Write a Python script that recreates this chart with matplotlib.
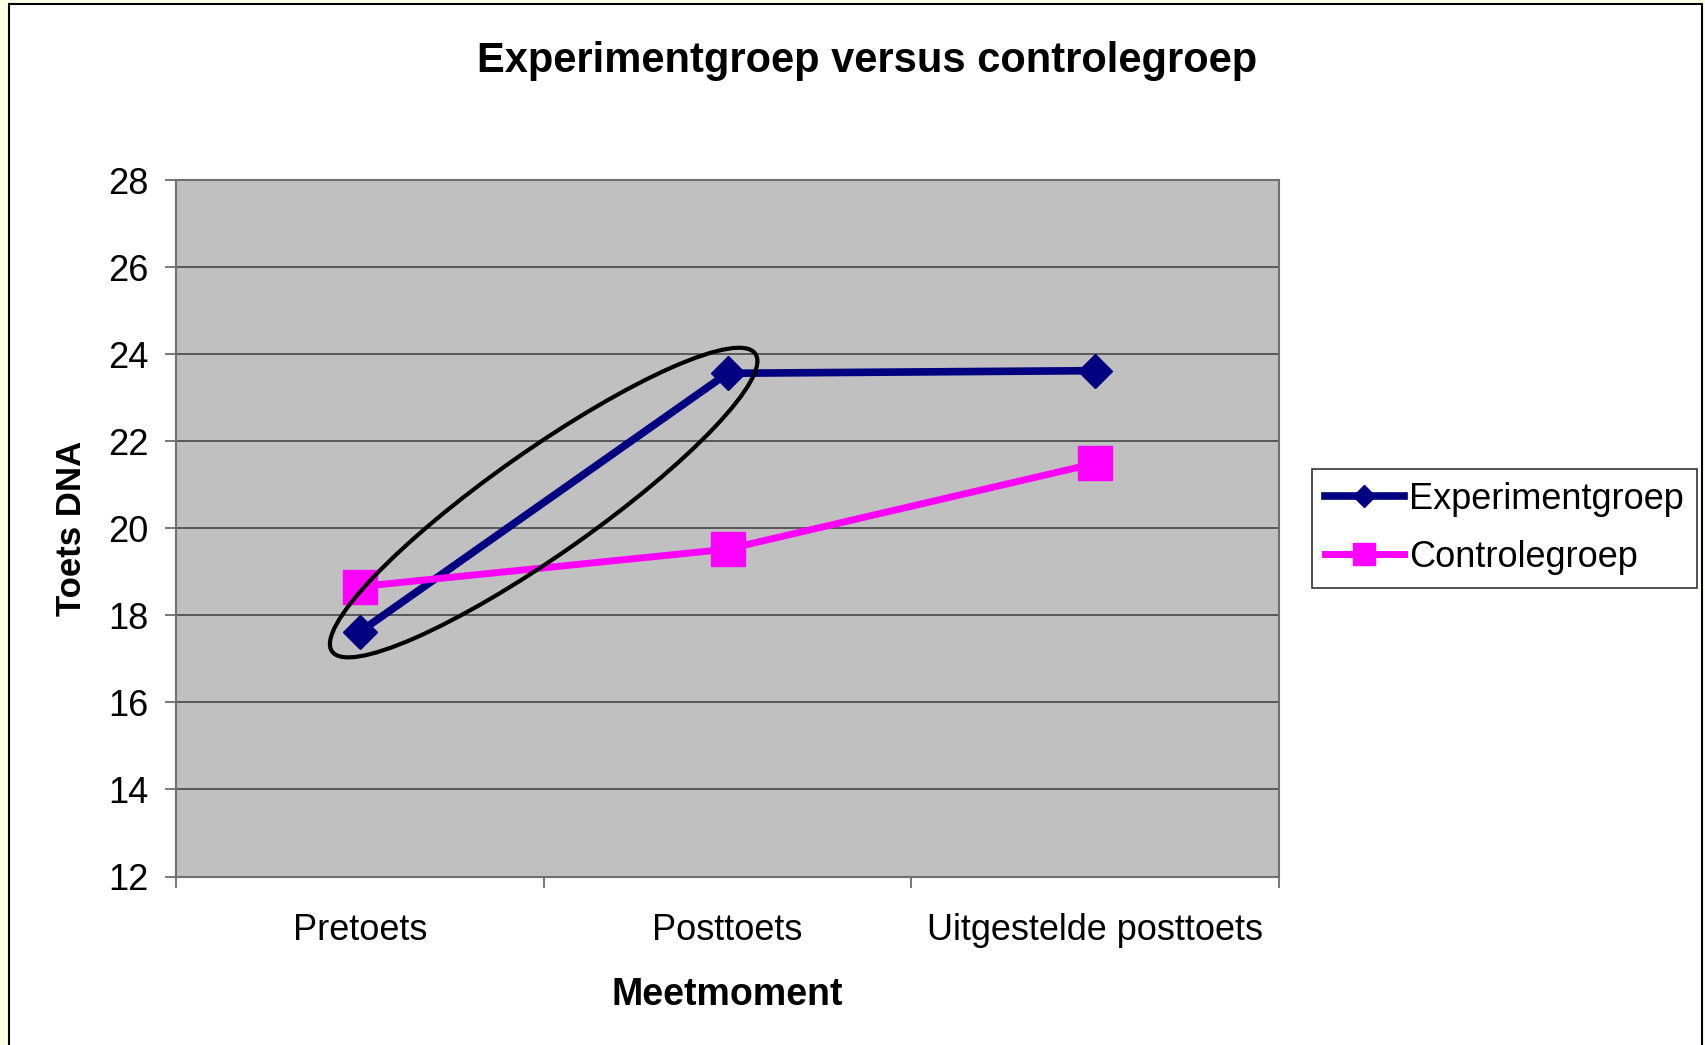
import numpy as np
import matplotlib
matplotlib.use('Agg')
import matplotlib.pyplot as plt
from matplotlib.patches import Ellipse, Rectangle
from matplotlib.transforms import IdentityTransform

plt.rcParams['font.family'] = ['Liberation Sans', 'DejaVu Sans']

categories = ['Pretoets', 'Posttoets', 'Uitgestelde posttoets']
experiment = [17.62, 23.56, 23.62]
controle = [18.66, 19.52, 21.49]
yticks = [12, 14, 16, 18, 20, 22, 24, 26, 28]

fig = plt.figure(figsize=(17.05, 10.45), dpi=100)
fig.patch.set_facecolor('#FFFFE6')

# white chart area with black border
fig.patches.append(Rectangle((9 / 1705, -0.01), 1693 / 1705, 1 - 4 / 1045 + 0.01,
                             transform=fig.transFigure, facecolor='white',
                             edgecolor='black', linewidth=1.5, zorder=-5))

ax = fig.add_axes([176 / 1705, 1 - 876.5 / 1045, 1103 / 1705, 696.5 / 1045])
ax.set_facecolor('#C0C0C0')

x = np.arange(len(categories))
ax.plot(x, experiment, color='#000080', lw=5.5, marker='D', ms=17,
        label='Experimentgroep', zorder=3)
ax.plot(x, controle, color='#FF00FF', lw=5, marker='s', ms=24,
        label='Controlegroep', zorder=3)

ax.set_xlim(-0.5, len(categories) - 0.5)
ax.set_ylim(12, 28)
ax.set_yticks(yticks)
ax.set_xticks(x)
ax.set_xticklabels(categories)
ax.set_xticks(np.arange(len(categories) + 1) - 0.5, minor=True)
ax.tick_params(axis='x', which='major', length=0, labelsize=26, pad=26)
ax.tick_params(axis='x', which='minor', length=8, width=1.2, color='#606060', direction='out')
ax.tick_params(axis='y', labelsize=26, length=8, width=1.2, color='#606060', direction='out', pad=12)
ax.grid(axis='y', color='#505050', lw=1.3)
ax.set_axisbelow(True)
for s in ax.spines.values():
    s.set_color('#707070')
    s.set_linewidth(1.5)

fig.text(0.5083, 1 - 61 / 1045, 'Experimentgroep versus controlegroep', fontsize=30,
         fontweight='bold', ha='center', va='center')
ax.set_xlabel('Meetmoment', fontsize=27, fontweight='bold', labelpad=21)
ax.set_ylabel('Toets DNA', fontsize=25, fontweight='bold', labelpad=14)

leg = ax.legend(loc='center left', bbox_to_anchor=(1.02, 0.5), fontsize=26,
                frameon=True, fancybox=False, edgecolor='black', markerscale=0.65,
                handlelength=2.2, handletextpad=0.15, borderpad=0.35, labelspacing=0.65,
                borderaxespad=0.3)
leg.get_frame().set_linewidth(1.2)

# ellipse around the pretoets -> posttoets rise of the experiment group
fig.canvas.draw()
p1 = ax.transData.transform((x[0], experiment[0]))
p2 = ax.transData.transform((x[1], experiment[1]))
center = (p1 + p2) / 2
d = p2 - p1
length = np.hypot(d[0], d[1])
angle = np.degrees(np.arctan2(d[1], d[0]))
ax.add_patch(Ellipse(center, length + 68, 104, angle=angle, transform=IdentityTransform(),
                     fill=False, edgecolor='black', lw=3, zorder=4))

fig.savefig('out.png', dpi=100, facecolor=fig.get_facecolor())
